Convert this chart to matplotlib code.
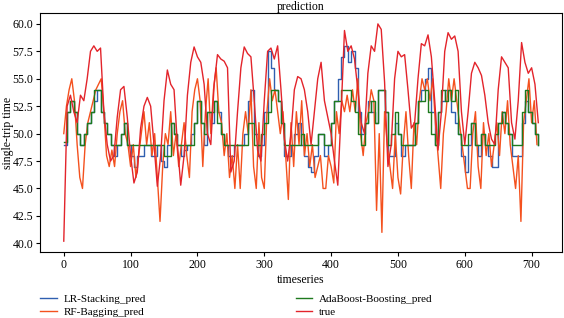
import numpy as np
import matplotlib
matplotlib.use("Agg")
import matplotlib.pyplot as plt

plt.rcParams['font.family'] = ['Liberation Serif', 'DejaVu Serif']

STEP_MAIN = 5
STEP_RF = 4

true_vals = [40.2, 52.5, 53.5, 52, 51, 53.5, 53, 55, 57.5, 58, 57.5, 57.8, 52, 49, 47.5, 48, 51.5, 54, 54.3, 51.5,
             48, 45.5, 46.5, 50.5, 52.5, 53.3, 52.5, 49, 45.2, 48, 53, 55.8, 54.5, 54, 49, 45.3, 48, 53.5, 56.5, 57.9,
             57, 56.5, 54.5, 50, 49, 54.5, 57.2, 56.8, 56.6, 56, 46.5, 47.5, 52, 56, 57.9, 57.3, 57, 53, 48.5, 47.5,
             53, 57.5, 57.8, 56.8, 58, 54, 49.5, 47.5, 50, 54, 55.2, 55, 54, 52, 49, 52, 55, 56.5, 53, 51.5,
             50, 47.5, 45.3, 52, 59.4, 57.5, 58, 56.8, 54, 51, 50, 55.5, 58, 57.5, 60, 59.5, 54.7, 47, 49, 55,
             57.5, 57, 57.2, 54, 50.5, 51, 55, 58.2, 58, 59, 57, 53, 48.5, 52, 57.5, 59.2, 58.6, 58.9, 57.5, 52,
             49, 52, 55.5, 56.5, 56, 55.3, 53.5, 51, 49.5, 49, 54, 57, 56.5, 56, 51, 49.5, 53, 58.3, 56.5, 55.5,
             56, 54.5, 51]

ada_vals = [49.2, 52, 53, 52, 50, 49, 50, 51, 52, 54, 54, 52, 51, 50, 49, 49, 49, 50, 51, 49,
            49, 49, 49, 49, 49, 49, 49, 49, 49, 49, 48, 48, 51, 50, 49, 49, 49, 49, 49, 51,
            53, 51, 50, 52, 52, 53, 51, 50, 49, 49, 49, 49, 49, 49, 49, 51, 51, 49, 49, 50,
            51, 52, 54, 54, 53, 51, 49, 49, 49, 49, 49, 50, 49, 49, 49, 49, 50, 50, 49, 49,
            51, 53, 53, 54, 54, 54, 53, 52, 50, 49, 51, 52, 53, 51, 54, 54, 52, 49, 50, 52,
            50, 49, 49, 49, 49, 51, 53, 53, 54, 52, 50, 49, 52, 54, 53, 54, 53, 54, 50, 49,
            49, 50, 51, 49, 49, 50, 49, 49, 49, 50, 51, 52, 51, 50, 49, 49, 49, 52, 54, 52,
            51, 50, 49]

lr_vals = [49, 52, 53, 52, 50, 49, 50, 51, 52, 53, 54, 52, 51, 50, 49, 48, 49, 50, 51, 49,
           48, 47, 48, 48, 49, 49, 48, 48, 49, 47.5, 47, 49, 51, 50, 49, 48, 48.5, 49, 50, 51,
           53, 51, 49, 52, 51, 53, 52, 50, 49, 48, 48, 49, 49, 49, 50, 53, 54, 50, 48, 49,
           52, 57.5, 56, 54, 53, 51, 48, 48, 49, 50, 51, 49, 48, 47, 46.5, 48, 50, 50, 48, 49,
           51, 53, 55, 57, 58, 56.5, 57.5, 56, 52, 50, 51, 53, 52, 51, 54, 54, 52, 48, 48, 51,
           50, 48, 49, 49, 49, 51, 53, 54, 55, 56, 52, 49, 52, 53, 54, 54, 52, 51, 50, 48,
           46.5, 49, 51, 49, 48, 50, 49, 48, 47, 47, 51, 52, 51, 50, 48, 48, 48, 51, 53, 52,
           51, 50, 49]

rf_vals = [50, 52.5, 54, 55, 53, 49, 46, 45, 49, 51, 52, 53, 54, 54.5, 55, 52, 48, 47, 48.5, 47,
           50, 52, 53, 50, 49, 47, 49, 46, 48, 50, 52, 49, 51, 48, 50, 46, 42, 47, 50, 49,
           52, 48, 50, 47, 49, 51, 48, 46, 52, 54, 55, 53, 47, 52, 55, 50, 54, 56, 52, 51,
           48, 50, 46, 48, 45, 49, 45, 50, 52, 50, 54, 47, 45, 51, 46, 45, 52, 55, 53, 54,
           52, 50, 52, 48, 44, 51, 47, 52, 49, 53, 48, 50, 47, 49, 46, 47, 48, 45, 45, 48,
           47, 45.5, 52, 50, 53, 52, 53.5, 52, 54, 52, 55, 50, 48, 51, 52, 54, 53, 43, 50, 41,
           52, 49, 47, 45, 50, 46, 44.5, 49, 52, 48, 45, 51, 49, 53, 55, 54, 55, 53, 55, 51,
           48, 45, 50, 52, 55, 53, 55, 53, 51, 49, 47, 45, 45, 50, 52, 47, 45, 51, 48, 50,
           47, 49, 51, 48, 52, 50, 53, 49, 47, 45, 48, 42, 51, 53, 55, 51, 53, 49]

t_main = np.arange(len(true_vals)) * STEP_MAIN
t_ada = np.arange(len(ada_vals)) * STEP_MAIN
t_lr = np.arange(len(lr_vals)) * STEP_MAIN
t_rf = np.arange(len(rf_vals)) * STEP_RF

fig = plt.figure(figsize=(5.64, 3.18), dpi=100)
ax = fig.add_axes([0.071, 0.2075, 0.9255, 0.7515])

l1, = ax.plot(t_lr, lr_vals, color='#2f5fb0', lw=1.0, drawstyle='steps-post', label='LR-Stacking_pred')
l2, = ax.plot(t_rf, rf_vals, color='#f4511e', lw=1.0, label='RF-Bagging_pred')
l3, = ax.plot(t_ada, ada_vals, color='#1e7a1e', lw=1.0, drawstyle='steps-post', label='AdaBoost-Boosting_pred')
l4, = ax.plot(t_main, true_vals, color='#e3242b', lw=1.0, label='true')

ax.set_title('prediction', fontsize=8.5, pad=2)
ax.set_xlabel('timeseries', fontsize=8.5, labelpad=2)
ax.set_ylabel('single-trip time', fontsize=8.5)
ax.yaxis.set_label_coords(-0.05, 0.5)
ax.tick_params(labelsize=8.5, length=3, pad=2)
ax.set_xticks([0, 100, 200, 300, 400, 500, 600, 700])
ax.set_yticks([40.0, 42.5, 45.0, 47.5, 50.0, 52.5, 55.0, 57.5, 60.0])

fig.legend(handles=[l1, l2, l3, l4], loc='lower left', bbox_to_anchor=(0.053, -0.028), ncol=2,
           frameon=False, fontsize=8, columnspacing=13.5, handlelength=1.5, handletextpad=0.6,
           labelspacing=0.3)

fig.savefig('out.png', dpi=100)
